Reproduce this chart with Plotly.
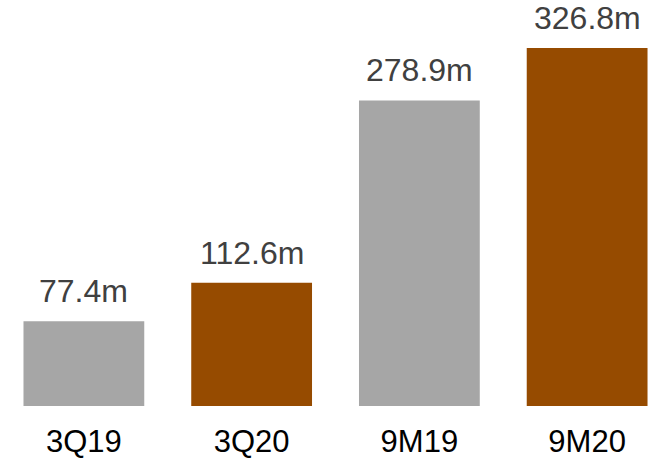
import plotly.graph_objects as go

categories = ["3Q19", "3Q20", "9M19", "9M20"]
values = [77.4, 112.6, 278.9, 326.8]
bar_colors = ["#A6A6A6", "#964B00", "#A6A6A6", "#964B00"]
value_labels = [f"{v:.1f}m" for v in values]

FONT = "Liberation Sans, Arial, sans-serif"

fig = go.Figure(
    go.Bar(
        x=categories,
        y=values,
        marker=dict(color=bar_colors, line=dict(width=0)),
        width=0.72,
        hoverinfo="x+y",
    )
)

# value labels above each bar
for cat, val, lab in zip(categories, values, value_labels):
    fig.add_annotation(
        x=cat,
        y=val,
        text=lab,
        showarrow=False,
        yanchor="bottom",
        yshift=10,
        font=dict(family=FONT, size=32, color="#404040"),
    )

fig.update_layout(
    width=671,
    height=459,
    margin=dict(l=0, r=0, t=0, b=53),
    plot_bgcolor="white",
    paper_bgcolor="white",
    showlegend=False,
    xaxis=dict(
        range=[-0.5, 3.5],
        showgrid=False,
        showline=False,
        ticks="",
        ticklabelstandoff=14,
        tickfont=dict(family=FONT, size=31, color="#000000"),
    ),
    yaxis=dict(
        range=[0, 370.6],
        visible=False,
    ),
)

fig.write_html("out.html")
